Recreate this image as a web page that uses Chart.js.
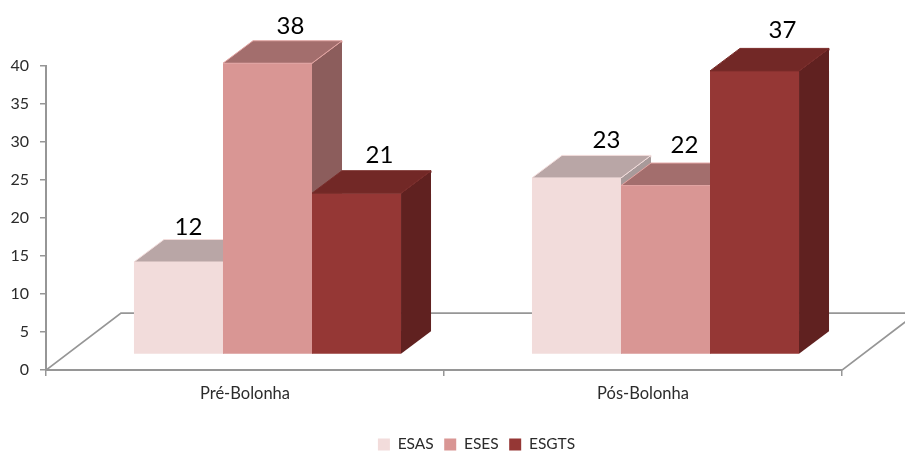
<!DOCTYPE html>
<html>
<head>
<meta charset="utf-8">
<style>
html,body{margin:0;padding:0;background:#fff;}
#wrap{width:905px;height:451px;overflow:hidden;}
canvas{display:block;}
</style>
<script src="https://cdn.jsdelivr.net/npm/chart.js@4"></script>
</head>
<body>
<div id="wrap"><canvas id="c" width="905" height="451"></canvas></div>
<script>
const categories = ['Pré-Bolonha', 'Pós-Bolonha'];
const esas = [12, 23];
const eses = [38, 22];
const esgts = [21, 37];
const seriesNames = ['ESAS', 'ESES', 'ESGTS'];

const frontColors = ['#F2DCDB', '#D99694', '#953735'];
const topColors = ['#B9A6A6', '#A36E6D', '#722826'];
const sideColors = ['#A89A9A', '#8C5D5C', '#602120'];
const edgeColors = ['#F2DCDB', '#E3A5A3', '#7A2C2A'];
const labelNudges = [[[-13, 4], [7, 1]], [[0, 2], [-4, -2]], [[0, 1], [5, -2]]];

const depthX = 30, depthY = 22.5, floorX = 75, floorY = 57, shiftX = 22.5;
const axisColor = '#969696', textColor = '#2B2B2B';

const threeD = {
  id: 'threeD',
  afterLayout(chart) {
    const lg = chart.legend;
    const w = lg.right - lg.left;
    lg.left = 476.5 - w / 2; lg.right = lg.left + w;
    const h = lg.bottom - lg.top;
    lg.top = 426.2; lg.bottom = lg.top + h;
  },
  beforeDatasetsDraw(chart) {
    const c = chart.ctx, { left, right, bottom } = chart.chartArea;
    c.save();
    c.strokeStyle = axisColor; c.lineWidth = 1.8;
    c.beginPath();
    c.moveTo(left, bottom);
    c.lineTo(left + floorX, bottom - floorY);
    c.lineTo(right + floorX, bottom - floorY);
    c.lineTo(right, bottom);
    c.stroke();
    c.restore();

    chart.data.datasets.forEach((ds, d) => {
      chart.getDatasetMeta(d).data.forEach(el => {
        const l = el.x - el.width / 2, r = el.x + el.width / 2, t = el.y, b = el.base;
        c.save();
        c.translate(shiftX, 0);
        el.draw(c);
        c.lineWidth = 1;
        c.strokeStyle = edgeColors[d];
        c.fillStyle = sideColors[d];
        c.beginPath();
        c.moveTo(r, t); c.lineTo(r + depthX, t - depthY);
        c.lineTo(r + depthX, b - depthY); c.lineTo(r, b); c.closePath();
        c.fill();
        c.beginPath(); c.moveTo(r, t); c.lineTo(r + depthX, t - depthY); c.lineTo(r + depthX, t - depthY + 2); c.stroke();
        c.fillStyle = topColors[d];
        c.beginPath();
        c.moveTo(l, t); c.lineTo(l + depthX, t - depthY);
        c.lineTo(r + depthX, t - depthY); c.lineTo(r, t); c.closePath();
        c.fill(); c.stroke();
        c.restore();
      });
    });
    return false;
  },
  afterDraw(chart) {
    const c = chart.ctx;
    c.save();
    c.font = '24px Lato'; c.fillStyle = '#000'; c.textAlign = 'center'; c.textBaseline = 'middle';
    chart.data.datasets.forEach((ds, d) => {
      chart.getDatasetMeta(d).data.forEach((el, i) => {
        const n = labelNudges[d][i];
        c.fillText(String(ds.data[i]), el.x + shiftX + depthX / 2 + 8 + n[0], el.y - depthY - 16 + n[1]);
      });
    });
    c.restore();
  }
};

new Chart(document.getElementById('c'), {
  type: 'bar',
  data: {
    labels: categories,
    datasets: [esas, eses, esgts].map((v, d) => ({
      label: seriesNames[d],
      data: v,
      backgroundColor: frontColors[d],
      yAxisID: 'yBars',
      barPercentage: 1,
      categoryPercentage: 0.671
    }))
  },
  options: {
    responsive: false,
    animation: false,
    layout: { padding: { left: 0, right: 63, top: 66, bottom: 0 } },
    plugins: {
      tooltip: { enabled: false },
      legend: {
        position: 'bottom',
        labels: { boxWidth: 12, boxHeight: 12, padding: 10.5, color: textColor, font: { family: 'Lato', size: 15.5 } }
      }
    },
    scales: {
      x: {
        grid: { display: true, drawOnChartArea: false, color: axisColor, tickLength: 6, lineWidth: 1.5 },
        border: { color: axisColor, width: 2 },
        ticks: { color: textColor, font: { family: 'Lato', size: 16.5 }, padding: 8, maxRotation: 0 },
        afterFit(s) { s.height = 44.9; }
      },
      y: {
        min: 0, max: 40,
        grid: { display: true, drawOnChartArea: false, color: axisColor, tickLength: 6, lineWidth: 1.5 },
        border: { color: axisColor, width: 2 },
        ticks: { stepSize: 5, color: textColor, font: { family: 'Lato', size: 16 }, padding: 11 },
        afterFit(s) { s.width = 46; }
      },
      yBars: { display: false, min: -2.14, max: 37.64 }
    }
  },
  plugins: [threeD]
});
</script>
</body>
</html>
